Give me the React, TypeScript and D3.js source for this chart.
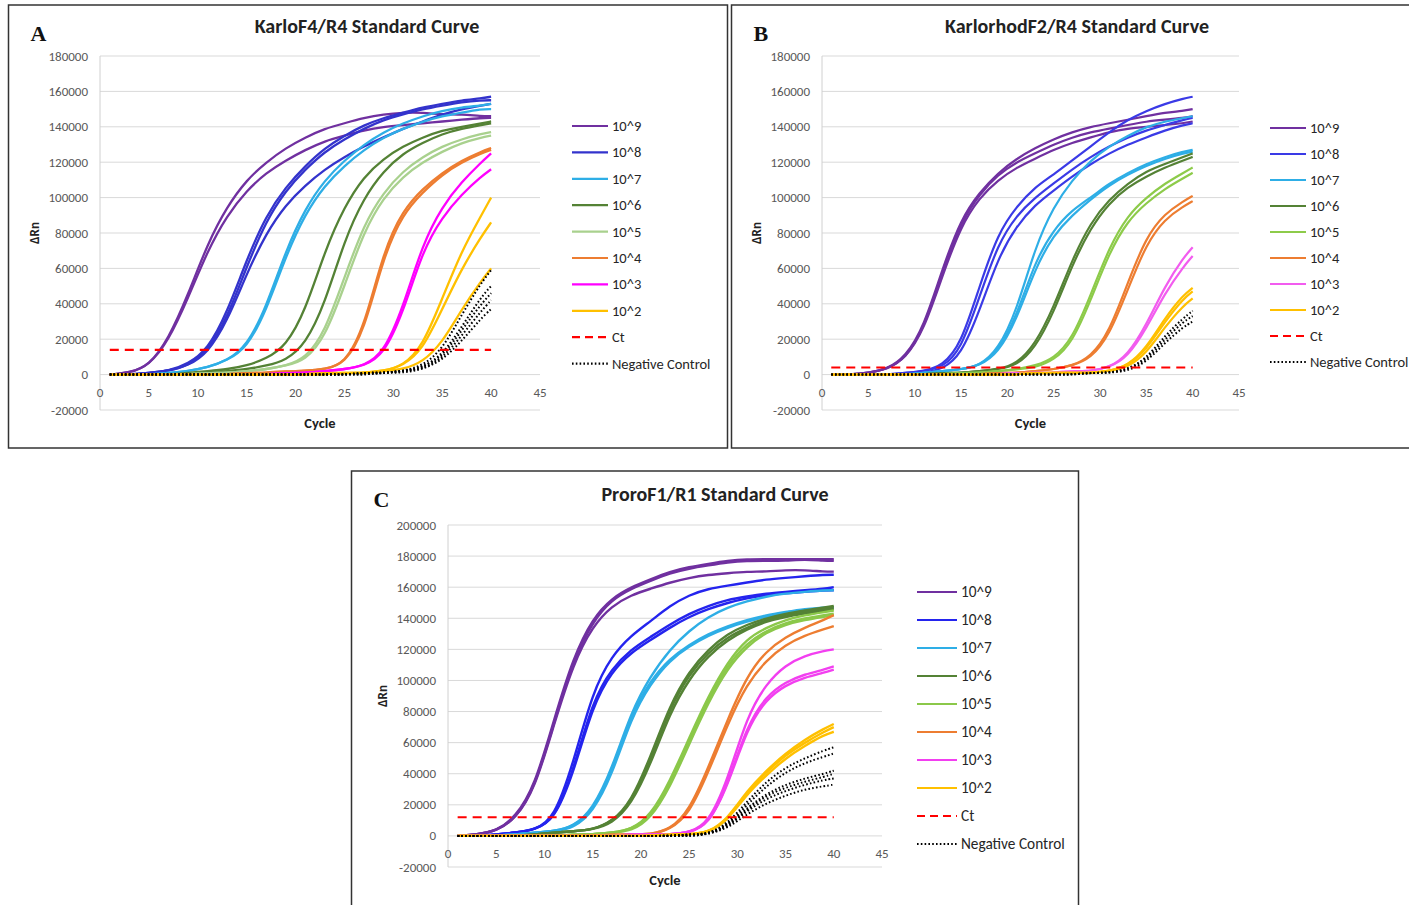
import React, { useEffect } from "react";
import * as d3 from "d3";

const cycles = [1, 3, 5, 7, 9, 11, 13, 15, 17, 19, 21, 23, 25, 27, 29, 31, 33, 35, 37, 39, 40];
const dilutions = ["10^9", "10^8", "10^7", "10^6", "10^5", "10^4", "10^3", "10^2"];
const xTicks = [0, 5, 10, 15, 20, 25, 30, 35, 40, 45];
const yTicksAB = [-20000, 0, 20000, 40000, 60000, 80000, 100000, 120000, 140000, 160000, 180000];
const yTicksC = [-20000, 0, 20000, 40000, 60000, 80000, 100000, 120000, 140000, 160000, 180000, 200000];

// ---- Panel A: KarloF4/R4 (ΔRn in thousands) ----
const aE9 = [
  [0, 1, 5, 20, 45, 74, 95, 110, 120, 128, 134, 139, 142, 145, 147, 148, 148, 147, 147, 146, 146],
  [0, 1, 5, 19, 43, 70, 90, 104, 114, 121, 127, 132, 135, 138, 140, 141, 142, 143, 144, 145, 145],
];
const aE8 = [
  [0, 0, 1, 2, 6, 14, 35, 65, 90, 106, 118, 128, 135, 141, 145, 148, 151, 153, 155, 156, 157],
  [0, 0, 1, 2, 5, 13, 32, 61, 87, 104, 116, 126, 133, 139, 144, 147, 150, 152, 154, 155, 155],
  [0, 0, 1, 2, 5, 12, 30, 57, 80, 96, 107, 116, 123, 129, 134, 139, 143, 147, 150, 152, 153],
];
const aE7 = [
  [0, 0, 0, 1, 2, 4, 8, 16, 38, 70, 94, 110, 121, 130, 137, 142, 146, 149, 151, 152, 153],
  [0, 0, 0, 1, 2, 4, 8, 15, 36, 67, 91, 107, 118, 127, 134, 139, 143, 146, 148, 150, 150],
];
const aE6 = [
  [0, 0, 0, 0, 1, 2, 3, 5, 9, 16, 36, 70, 95, 112, 122, 129, 134, 138, 140, 142, 143],
  [0, 0, 0, 0, 0, 1, 2, 3, 5, 8, 17, 40, 76, 100, 115, 125, 131, 136, 139, 141, 142],
];
const aE5 = [
  [0, 0, 0, 0, 0, 1, 1, 2, 3, 5, 9, 24, 55, 85, 103, 115, 123, 129, 133, 136, 137],
  [0, 0, 0, 0, 0, 1, 1, 2, 3, 5, 8, 21, 50, 81, 100, 112, 120, 126, 131, 134, 135],
];
const aE4 = [
  [0, 0, 0, 0, 0, 0, 0, 1, 1, 2, 2, 3, 6, 26, 70, 93, 105, 114, 121, 126, 128],
  [0, 0, 0, 0, 0, 0, 0, 1, 1, 2, 2, 3, 6, 24, 67, 91, 103, 113, 120, 125, 127],
];
const aE3 = [
  [0, 0, 0, 0, 0, 0, 0, 0, 0, 1, 1, 2, 3, 5, 12, 38, 74, 95, 109, 120, 125],
  [0, 0, 0, 0, 0, 0, 0, 0, 0, 1, 1, 2, 3, 5, 11, 35, 70, 89, 102, 112, 116],
];
const aE2 = [
  [0, 0, 0, 0, 0, 0, 0, 0, 0, 0, 0, 1, 1, 1, 2, 5, 16, 43, 70, 90, 100],
  [0, 0, 0, 0, 0, 0, 0, 0, 0, 0, 0, 1, 1, 1, 2, 5, 14, 37, 60, 78, 86],
  [0, 0, 0, 0, 0, 0, 0, 0, 0, 0, 0, 0, 1, 1, 2, 3, 7, 18, 37, 53, 60],
];
const aNeg = [
  [0, 0, 0, 0, 0, 0, 0, 0, 0, 0, 0, 0, 0, 1, 1, 2, 5, 14, 34, 52, 59],
  [0, 0, 0, 0, 0, 0, 0, 0, 0, 0, 0, 0, 0, 1, 1, 2, 4, 11, 27, 44, 50],
  [0, 0, 0, 0, 0, 0, 0, 0, 0, 0, 0, 0, 0, 1, 1, 2, 4, 10, 25, 40, 46],
  [0, 0, 0, 0, 0, 0, 0, 0, 0, 0, 0, 0, 0, 0, 1, 2, 3, 9, 22, 36, 42],
  [0, 0, 0, 0, 0, 0, 0, 0, 0, 0, 0, 0, 0, 0, 1, 1, 3, 8, 19, 32, 37],
];
const aCt = 14;

// ---- Panel B: KarlorhodF2/R4 ----
const bE9 = [
  [0, 0, 1, 3, 10, 27, 60, 88, 103, 114, 122, 128, 133, 137, 140, 142, 144, 146, 148, 149, 150],
  [0, 0, 1, 3, 9, 26, 58, 86, 102, 113, 120, 125, 130, 134, 137, 139, 141, 143, 144, 145, 146],
  [0, 0, 1, 3, 9, 25, 56, 84, 100, 110, 117, 122, 127, 131, 134, 137, 139, 140, 141, 142, 143],
];
const bE8 = [
  [0, 0, 0, 0, 1, 2, 5, 17, 50, 80, 95, 106, 113, 121, 129, 137, 144, 149, 153, 156, 157],
  [0, 0, 0, 0, 1, 2, 4, 14, 44, 74, 90, 100, 108, 116, 123, 129, 134, 138, 141, 144, 145],
  [0, 0, 0, 0, 0, 1, 3, 11, 36, 66, 84, 96, 104, 112, 119, 125, 130, 134, 138, 141, 142],
];
const bE7 = [
  [0, 0, 0, 0, 0, 1, 2, 3, 5, 14, 36, 72, 95, 110, 121, 129, 135, 140, 143, 145, 146],
  [0, 0, 0, 0, 0, 1, 2, 3, 5, 13, 33, 64, 82, 93, 100, 108, 114, 119, 123, 126, 127],
  [0, 0, 0, 0, 0, 1, 2, 3, 5, 12, 31, 60, 79, 90, 99, 107, 113, 118, 122, 125, 126],
];
const bE6 = [
  [0, 0, 0, 0, 0, 0, 1, 1, 2, 3, 6, 17, 38, 65, 86, 99, 108, 115, 119, 123, 125],
  [0, 0, 0, 0, 0, 0, 1, 1, 2, 3, 5, 15, 35, 62, 83, 97, 106, 112, 117, 121, 123],
];
const bE5 = [
  [0, 0, 0, 0, 0, 0, 0, 1, 1, 2, 3, 5, 9, 20, 45, 72, 90, 100, 108, 114, 117],
  [0, 0, 0, 0, 0, 0, 0, 1, 1, 2, 3, 4, 8, 18, 42, 69, 87, 97, 105, 111, 114],
];
const bE4 = [
  [0, 0, 0, 0, 0, 0, 0, 0, 0, 1, 1, 2, 3, 5, 10, 24, 52, 78, 91, 98, 101],
  [0, 0, 0, 0, 0, 0, 0, 0, 0, 1, 1, 2, 3, 5, 9, 22, 48, 74, 88, 95, 98],
];
const bE3 = [
  [0, 0, 0, 0, 0, 0, 0, 0, 0, 0, 1, 1, 1, 2, 2, 4, 11, 28, 50, 66, 72],
  [0, 0, 0, 0, 0, 0, 0, 0, 0, 0, 1, 1, 1, 2, 2, 4, 10, 26, 46, 61, 67],
];
const bE2 = [
  [0, 0, 0, 0, 0, 0, 0, 0, 0, 0, 0, 1, 1, 1, 1, 2, 5, 15, 32, 45, 49],
  [0, 0, 0, 0, 0, 0, 0, 0, 0, 0, 0, 1, 1, 1, 1, 2, 5, 14, 30, 43, 47],
  [0, 0, 0, 0, 0, 0, 0, 0, 0, 0, 0, 1, 1, 1, 1, 2, 4, 12, 27, 39, 43],
];
const bNeg = [
  [0, 0, 0, 0, 0, 0, 0, 0, 0, 0, 0, 0, 0, 0, 1, 1, 3, 9, 22, 32, 36],
  [0, 0, 0, 0, 0, 0, 0, 0, 0, 0, 0, 0, 0, 0, 1, 1, 3, 8, 20, 30, 33],
  [0, 0, 0, 0, 0, 0, 0, 0, 0, 0, 0, 0, 0, 0, 1, 1, 2, 7, 18, 27, 30],
];
const bCt = 4;

// ---- Panel C: ProroF1/R1 ----
const cE9 = [
  [0, 1, 3, 12, 32, 75, 115, 140, 153, 160, 165, 170, 173, 175, 177, 178, 178, 178, 178, 178, 178],
  [0, 1, 3, 11, 31, 73, 113, 138, 152, 159, 164, 169, 172, 174, 176, 177, 177, 177, 178, 177, 177],
  [0, 1, 3, 11, 30, 72, 111, 135, 148, 155, 159, 163, 166, 168, 169, 170, 170, 171, 171, 170, 170],
];
const cE8 = [
  [0, 0, 1, 2, 4, 11, 47, 93, 116, 129, 138, 148, 155, 159, 161, 163, 165, 166, 167, 168, 168],
  [0, 0, 1, 2, 4, 10, 42, 87, 108, 120, 128, 136, 143, 148, 152, 154, 156, 157, 158, 159, 160],
  [0, 0, 1, 2, 4, 10, 40, 84, 106, 118, 126, 134, 141, 146, 150, 153, 155, 156, 157, 158, 158],
];
const cE7 = [
  [0, 0, 0, 1, 2, 3, 6, 17, 43, 80, 103, 120, 132, 141, 147, 151, 154, 156, 157, 158, 158],
  [0, 0, 0, 1, 2, 3, 6, 16, 41, 78, 100, 114, 123, 130, 135, 139, 142, 144, 146, 147, 147],
  [0, 0, 0, 1, 2, 3, 5, 15, 39, 76, 98, 113, 122, 129, 134, 138, 141, 144, 145, 146, 147],
];
const cE6 = [
  [0, 0, 0, 0, 1, 2, 3, 4, 9, 22, 51, 84, 106, 120, 130, 136, 140, 143, 145, 147, 148],
  [0, 0, 0, 0, 1, 2, 3, 4, 9, 21, 49, 82, 104, 118, 128, 134, 139, 142, 144, 146, 147],
  [0, 0, 0, 0, 1, 2, 3, 4, 8, 20, 46, 79, 101, 116, 126, 133, 138, 141, 143, 145, 146],
];
const cE5 = [
  [0, 0, 0, 0, 0, 0, 1, 1, 2, 4, 13, 35, 63, 90, 112, 127, 134, 139, 142, 144, 145],
  [0, 0, 0, 0, 0, 0, 1, 1, 2, 4, 12, 33, 61, 88, 110, 124, 132, 137, 140, 142, 143],
  [0, 0, 0, 0, 0, 0, 1, 1, 2, 3, 11, 31, 59, 86, 108, 122, 131, 136, 139, 141, 142],
];
const cE4 = [
  [0, 0, 0, 0, 0, 0, 0, 0, 1, 1, 1, 4, 16, 44, 75, 103, 119, 128, 134, 139, 142],
  [0, 0, 0, 0, 0, 0, 0, 0, 1, 1, 1, 4, 14, 41, 72, 98, 113, 123, 129, 133, 135],
];
const cE3 = [
  [0, 0, 0, 0, 0, 0, 0, 0, 0, 1, 1, 1, 2, 8, 36, 77, 98, 110, 116, 119, 120],
  [0, 0, 0, 0, 0, 0, 0, 0, 0, 1, 1, 1, 2, 7, 33, 71, 90, 99, 104, 107, 109],
  [0, 0, 0, 0, 0, 0, 0, 0, 0, 1, 1, 1, 2, 7, 32, 69, 88, 97, 102, 105, 107],
];
const cE2 = [
  [0, 0, 0, 0, 0, 0, 0, 0, 0, 0, 0, 1, 1, 2, 11, 29, 42, 53, 62, 69, 72],
  [0, 0, 0, 0, 0, 0, 0, 0, 0, 0, 0, 1, 1, 2, 10, 28, 41, 52, 60, 67, 70],
  [0, 0, 0, 0, 0, 0, 0, 0, 0, 0, 0, 1, 1, 2, 10, 27, 39, 50, 58, 65, 67],
];
const cNeg = [
  [0, 0, 0, 0, 0, 0, 0, 0, 0, 0, 0, 0, 1, 1, 8, 22, 35, 44, 50, 55, 57],
  [0, 0, 0, 0, 0, 0, 0, 0, 0, 0, 0, 0, 1, 1, 7, 20, 32, 41, 47, 51, 53],
  [0, 0, 0, 0, 0, 0, 0, 0, 0, 0, 0, 0, 1, 1, 7, 18, 27, 33, 37, 40, 42],
  [0, 0, 0, 0, 0, 0, 0, 0, 0, 0, 0, 0, 0, 1, 6, 17, 26, 31, 35, 38, 40],
  [0, 0, 0, 0, 0, 0, 0, 0, 0, 0, 0, 0, 0, 1, 6, 16, 24, 29, 33, 36, 37],
  [0, 0, 0, 0, 0, 0, 0, 0, 0, 0, 0, 0, 0, 1, 5, 14, 21, 26, 30, 32, 33],
];
const cCt = 12;

const colorsA = ["#7030A0", "#3333CC", "#2EAEE6", "#548235", "#A9D18E", "#ED7D31", "#FF00FF", "#FFC000"];
const colorsB = ["#7030A0", "#3A3AE6", "#2EAEE6", "#548235", "#8DCB4A", "#ED7D31", "#F25CEF", "#FFC000"];
const colorsC = ["#7030A0", "#2424EE", "#2EAEE6", "#548235", "#8BC84A", "#ED7D31", "#F23FF0", "#FFC000"];

const FONT = "Carlito, Lato, 'Open Sans', sans-serif";

type PanelProps = {
  letter: string;
  title: string;
  frame: { x: number; y: number; w: number; h: number };
  titleX: number;
  titleY: number;
  plot: { left: number; right: number; top: number; bottom: number };
  yMax: number;
  yTicks: number[];
  legend: { x: number; y0: number; dy: number; len: number; size: number };
  groups: number[][][];
  colors: string[];
  neg: number[][];
  ct: number;
  width: number;
};

function Panel(p: PanelProps) {
  const x = d3.scaleLinear().domain([0, 45]).range([p.plot.left, p.plot.right]);
  const y = d3.scaleLinear().domain([-20000, p.yMax]).range([p.plot.bottom, p.plot.top]);
  const line = d3
    .line<number>()
    .x((_, i) => x(cycles[i]))
    .y((d) => y(d * 1000))
    .curve(d3.curveBasis);
  const y0 = y(0);
  const lg = p.legend;
  const legendItems = dilutions.map((d, i) => ({ label: d, color: p.colors[i], dash: "none" }));
  legendItems.push({ label: "Ct", color: "#FF0000", dash: "8,5" });
  legendItems.push({ label: "Negative Control", color: "#000", dash: "1.6,2.2" });

  return (
    <g>
      <rect x={p.frame.x} y={p.frame.y} width={p.frame.w} height={p.frame.h} fill="#fff" stroke="#333" strokeWidth={1.5} />
      <text x={p.frame.x + 22} y={p.frame.y + 36} fontFamily="'Liberation Serif', 'DejaVu Serif', serif" fontWeight="bold" fontSize={22} fill="#111">
        {p.letter}
      </text>
      <text x={p.titleX} y={p.titleY} textAnchor="middle" fontFamily={FONT} fontWeight="bold" fontSize={20} fill="#222">
        {p.title}
      </text>
      {p.yTicks.map((t) => (
        <g key={t}>
          <line x1={p.plot.left} x2={p.plot.right} y1={y(t)} y2={y(t)} stroke="#d9d9d9" strokeWidth={1} />
          <text x={p.plot.left - 12} y={y(t)} dy="0.35em" textAnchor="end" fontFamily={FONT} fontSize={13} fill="#595959">
            {t}
          </text>
        </g>
      ))}
      <line x1={p.plot.left} x2={p.plot.left} y1={p.plot.top} y2={p.plot.bottom} stroke="#d0d0d0" strokeWidth={1} />
      {xTicks.map((t) => (
        <text key={t} x={x(t)} y={y0 + 18} dy="0.35em" textAnchor="middle" fontFamily={FONT} fontSize={13} fill="#595959">
          {t}
        </text>
      ))}
      <text x={(p.plot.left + p.plot.right) / 2} y={p.plot.bottom + 18} textAnchor="middle" fontFamily={FONT} fontWeight="bold" fontSize={14.5} fill="#222">
        Cycle
      </text>
      <text
        transform={`translate(${p.plot.left - 61},${(p.plot.top + p.plot.bottom) / 2}) rotate(-90)`}
        textAnchor="middle"
        fontFamily={FONT}
        fontWeight="bold"
        fontSize={13}
        fill="#222"
      >
        ΔRn
      </text>
      {p.groups.map((g, gi) =>
        g.map((c, ci) => (
          <path key={`${gi}-${ci}`} d={line(c) || ""} fill="none" stroke={p.colors[gi]} strokeWidth={p.width} />
        ))
      )}
      {p.neg.map((c, ci) => (
        <path key={`n${ci}`} d={line(c) || ""} fill="none" stroke="#000" strokeWidth={2} strokeDasharray="1.6,2.2" />
      ))}
      <line x1={x(cycles[0])} x2={x(cycles[cycles.length - 1])} y1={y(p.ct * 1000)} y2={y(p.ct * 1000)} stroke="#FF0000" strokeWidth={2.2} strokeDasharray="9,6" />
      {legendItems.map((it, i) => (
        <g key={it.label}>
          <line
            x1={lg.x}
            x2={lg.x + lg.len}
            y1={lg.y0 + i * lg.dy}
            y2={lg.y0 + i * lg.dy}
            stroke={it.color}
            strokeWidth={2.2}
            strokeDasharray={it.dash}
          />
          <text x={lg.x + lg.len + 4} y={lg.y0 + i * lg.dy} dy="0.35em" fontFamily={FONT} fontSize={lg.size} fill="#262626">
            {it.label}
          </text>
        </g>
      ))}
    </g>
  );
}

export default function App() {
  useEffect(() => {
    document.body.style.margin = "0";
    document.body.style.overflow = "hidden";
  }, []);
  return (
    <div style={{ position: "absolute", left: 0, top: 0 }}>
      <svg width={1409} height={905} style={{ display: "block", background: "#fff" }}>
        <Panel
          letter="A"
          title="KarloF4/R4 Standard Curve"
          frame={{ x: 8.5, y: 5, w: 719, h: 443 }}
          titleX={367}
          titleY={33}
          plot={{ left: 100, right: 540, top: 56, bottom: 410 }}
          yMax={180000}
          yTicks={yTicksAB}
          legend={{ x: 572, y0: 126, dy: 26.4, len: 36, size: 14.5 }}
          groups={[aE9, aE8, aE7, aE6, aE5, aE4, aE3, aE2]}
          colors={colorsA}
          neg={aNeg}
          ct={aCt}
          width={2.3}
        />
        <Panel
          letter="B"
          title="KarlorhodF2/R4 Standard Curve"
          frame={{ x: 731.5, y: 5, w: 700, h: 443 }}
          titleX={1077}
          titleY={33}
          plot={{ left: 822, right: 1239, top: 56, bottom: 410 }}
          yMax={180000}
          yTicks={yTicksAB}
          legend={{ x: 1270, y0: 128, dy: 26, len: 36, size: 14.5 }}
          groups={[bE9, bE8, bE7, bE6, bE5, bE4, bE3, bE2]}
          colors={colorsB}
          neg={bNeg}
          ct={bCt}
          width={2.2}
        />
        <Panel
          letter="C"
          title="ProroF1/R1 Standard Curve"
          frame={{ x: 351.5, y: 471, w: 727, h: 460 }}
          titleX={715}
          titleY={501}
          plot={{ left: 448, right: 882, top: 525, bottom: 867 }}
          yMax={200000}
          yTicks={yTicksC}
          legend={{ x: 917, y0: 592, dy: 28, len: 40, size: 15.3 }}
          groups={[cE9, cE8, cE7, cE6, cE5, cE4, cE3, cE2]}
          colors={colorsC}
          neg={cNeg}
          ct={cCt}
          width={2.4}
        />
      </svg>
    </div>
  );
}
